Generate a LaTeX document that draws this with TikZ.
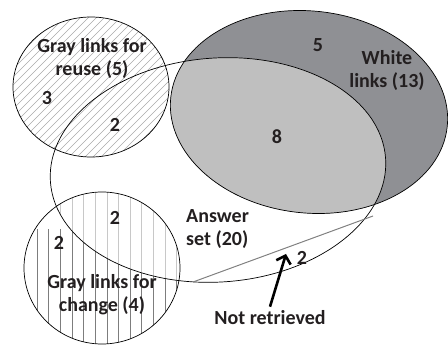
\documentclass[tikz,border=0pt]{standalone}
\usepackage{fontspec}
\setmainfont{Carlito}
\usetikzlibrary{arrows.meta}
\definecolor{whitefill}{RGB}{143,144,148}
\definecolor{bothfill}{RGB}{191,191,191}
\definecolor{hatchgray}{RGB}{170,170,170}
\definecolor{stripegray}{RGB}{125,125,125}
\definecolor{stripelight}{RGB}{200,200,200}
\definecolor{textgray}{RGB}{35,31,32}

\begin{document}
\begin{tikzpicture}
[x=1pt,y=1pt,%
  setOutline/.style={draw=black,line width=0.7pt},%
  labelDecorate/.style={font=\fontsize{20}{23}\selectfont\bfseries,text=textgray,inner sep=1pt},%
  hatchDecorate/.style={draw=hatchgray,line width=0.6pt},%
  chordDecorate/.style={draw=gray,line width=1pt},%
  arrowDecorate/.style={-{Straight Barb[length=7pt,width=15pt]},line width=2.6pt,text=textgray}]
\useasboundingbox (0,0) rectangle (448,346);
%% sets
\coordinate (reuse) at (91,259);
\coordinate (change) at (102,78);
\coordinate (white) at (309,234);
\coordinate (answer) at (218,176);
%% white links and the part inside the answer set
\fill[whitefill,rotate around={-6:(white)}] (white) ellipse [x radius=139,y radius=101];
\begin{scope}
  \clip[rotate around={4:(answer)}] (answer) ellipse [x radius=168,y radius=112];
  \fill[bothfill,rotate around={-6:(white)}] (white) ellipse [x radius=139,y radius=101];
\end{scope}
%% reuse: diagonal hatch
\begin{scope}
  \clip (reuse) ellipse [x radius=78,y radius=70];
  \foreach \c in {-320,-312,...,-16}
  {
    \draw[hatchDecorate] (\c+180,180) -- (\c+340,340);
  }
\end{scope}
%% change: vertical stripes, lighter inside the answer set
\begin{scope}
  \clip (change) ellipse [x radius=78,y radius=76];
  \foreach \k in {0,...,12}
  {
    \draw[stripegray,line width=0.8pt] (37+11.65*\k,0) -- (37+11.65*\k,117);
  }
  \begin{scope}
    \clip[rotate around={4:(answer)}] (answer) ellipse [x radius=168,y radius=112];
    \fill[white] (0,0) rectangle (200,200);
    \foreach \k in {0,...,12}
    {
      \draw[stripelight,line width=0.8pt] (37+11.65*\k,0) -- (37+11.65*\k,200);
    }
  \end{scope}
\end{scope}
%% outlines
\draw[setOutline] (reuse) ellipse [x radius=78,y radius=70];
\draw[setOutline] (change) ellipse [x radius=78,y radius=76];
\draw[setOutline,rotate around={-6:(white)}] (white) ellipse [x radius=139,y radius=101];
\draw[setOutline,rotate around={4:(answer)}] (answer) ellipse [x radius=168,y radius=112];
%% not retrieved part
\coordinate (chordA) at (193,64);
\coordinate (chordB) at (373,130);
\draw[chordDecorate] (chordA) -- (chordB);
%% labels
\node (reuseName) at (92,288) [labelDecorate,align=center] {Gray links for\\reuse (5)};
\node (reuseOnly) at (47,248) [labelDecorate] {3};
\node (reuseAns) at (115,221) [labelDecorate] {2};
\node (whiteOnly) at (318,301) [labelDecorate] {5};
\node (whiteName) at (387,276) [labelDecorate,align=center] {White\\links (13)};
\node (whiteAns) at (277,209) [labelDecorate] {8};
\node (changeAns) at (115,128) [labelDecorate] {2};
\node (changeOnly) at (59,103) [labelDecorate] {2};
\node (changeName) at (102,51) [labelDecorate,align=center] {Gray links for\\change (4)};
\node (answerName) at (185,117) [labelDecorate,anchor=west,align=left] {Answer\\set (20)};
\node (missed) at (302,88) [labelDecorate] {2};
\node (notRet) at (270,28) [labelDecorate] {Not retrieved};
\coordinate (arrowTip) at (286,92);
\draw[arrowDecorate] ([yshift=3pt]notRet.north) -- (arrowTip);
\end{tikzpicture}
\end{document}
